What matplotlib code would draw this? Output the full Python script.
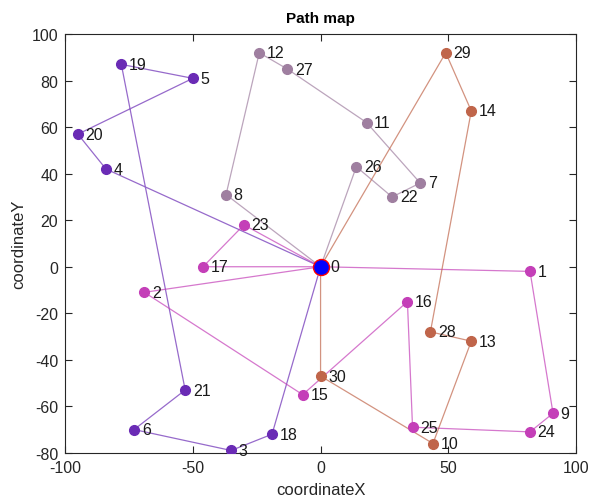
import numpy as np
import matplotlib.pyplot as plt

# Customer coordinates (index = node id, 0 = depot)
node_x = [0, 82, -69, -35, -84, -50, -73, 39, -37, 91,
          44, 18, -24, 59, 59, -7, 34, -46, -19, -78,
          -95, -53, 28, -30, 82, 36, 14, -13, 43, 49, 0]
node_y = [0, -2, -11, -79, 42, 81, -70, 36, 31, -63,
          -76, 62, 92, -32, 67, -55, -15, 0, -72, 87,
          57, -53, 30, 18, -71, -69, 43, 85, -28, 92, -47]

# Vehicle routes, each starting and ending at the depot
routes = [
    [0, 4, 20, 5, 19, 21, 6, 3, 18, 0],
    [0, 23, 17, 0],
    [0, 2, 15, 16, 25, 24, 9, 1, 0],
    [0, 8, 12, 27, 11, 7, 22, 26, 0],
    [0, 29, 14, 28, 13, 10, 30, 0],
]
route_colors = ['#6a2bb5', '#c43fb8', '#c43fb8', '#9f7fa0', '#c0654a']

plt.rcParams['font.family'] = ['Liberation Sans', 'DejaVu Sans']
plt.rcParams['axes.unicode_minus'] = False

fig = plt.figure(figsize=(5.92, 5.02), dpi=100)
ax = fig.add_axes([0.110, 0.096, 0.863, 0.834])

for route, color in zip(routes, route_colors):
    xs = [node_x[i] for i in route]
    ys = [node_y[i] for i in route]
    ax.plot(xs, ys, '-', color=color, linewidth=0.9, alpha=0.7, zorder=2)
    ax.plot(xs[1:-1], ys[1:-1], 'o', color=color, markersize=7, zorder=3)

# Depot
ax.plot(node_x[0], node_y[0], 'o', markerfacecolor='#0000ff',
        markeredgecolor='red', markersize=11.5, zorder=4)

for i in range(len(node_x)):
    dx = 4 if i == 0 else 3
    ax.text(node_x[i] + dx, node_y[i], str(i), fontsize=11.5,
            va='center', ha='left', color='#1a1a1a', zorder=5)

ax.set_xlim(-100, 100)
ax.set_ylim(-80, 100)
ax.set_xticks(np.arange(-100, 101, 50))
ax.set_yticks(np.arange(-80, 101, 20))
ax.tick_params(direction='in', top=True, right=True, labelsize=11.5,
               colors='#262626', length=5, pad=5)
for spine in ax.spines.values():
    spine.set_color('#262626')
    spine.set_linewidth(0.8)

ax.set_xlabel('coordinateX', fontsize=12, color='#262626', labelpad=5)
ax.set_ylabel('coordinateY', fontsize=12, color='#262626', labelpad=4)
ax.set_title('Path map', fontsize=11, fontweight='bold', pad=9)

fig.savefig('out.png', dpi=100)
